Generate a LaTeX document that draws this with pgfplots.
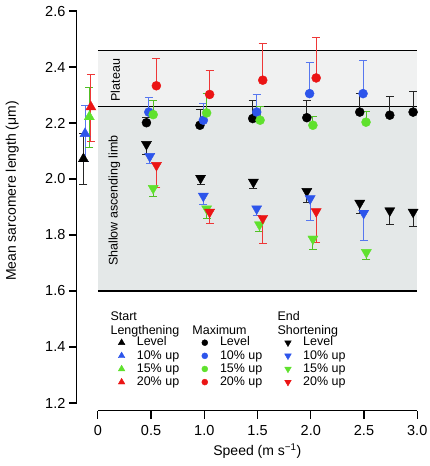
\documentclass[border=0pt]{standalone}
\usepackage{fontspec}
\setmainfont{Liberation Sans}
\usepackage{pgfplots}
\pgfplotsset{compat=1.18}
\definecolor{cblue}{RGB}{45,85,235}
\definecolor{cgreen}{RGB}{95,225,45}
\definecolor{cred}{RGB}{235,20,20}
\definecolor{plat}{RGB}{240,241,241}
\definecolor{limb}{RGB}{228,232,232}
\pgfplotsset{
  eb/.style n args={2}{error bars/.cd, y dir=#1, y explicit,
    error bar style={line width=0.8bp, color=#2},
    error mark options={rotate=90, mark size=4bp, line width=0.8bp, color=#2}},
  up/.style={only marks, mark=triangle*, mark size=5.8bp, forget plot},
  dn/.style={only marks, mark=triangle*, mark size=5.8bp, mark options={rotate=180}, forget plot},
  ci/.style={only marks, mark=*, mark size=4.5bp, forget plot},
}
\newcommand{\lf}{\fontsize{12.5}{14}\selectfont}
\begin{document}
\begin{tikzpicture}
\begin{axis}[
  scale only axis, width=339.3bp, height=398.7bp,
  xmin=-0.196, xmax=3.0, ymin=1.1715, ymax=2.6,
  clip=false,
  axis x line*=bottom, axis y line*=left,
  axis line style={draw=none},
  tick align=outside, major tick length=8bp,
  every tick/.style={black, line width=1.1bp},
  xtick={0,0.5,1,1.5,2,2.5,3},
  xticklabels={0,0.5,1.0,1.5,2.0,2.5,3.0},
  ytick={1.2,1.4,1.6,1.8,2.0,2.2,2.4,2.6},
  yticklabels={1.2,1.4,1.6,1.8,2.0,2.2,2.4,2.6},
  tick label style={font=\fontsize{14.5}{16}\selectfont},
  xticklabel style={yshift=-3bp},
  /pgf/number format/assume math mode=true,
  xlabel={Speed (m s\textsuperscript{−1})},
  ylabel={Mean sarcomere length (μm)},
  label style={font=\fontsize{14}{16}\selectfont},
  xlabel style={at={(axis description cs:0.53,-0.1)}, anchor=center},
  ylabel style={at={(axis description cs:-0.19,0.55)}, anchor=center},
  legend columns=3,
  legend cell align=left,
  legend style={at={(axis cs:0.184,1.438)}, anchor=north west, draw=none, fill=none,
    inner sep=0pt, outer sep=0pt, font=\lf,
    row sep=0.4bp, column sep=10bp,
    nodes={inner xsep=1bp, inner ysep=0.75bp, text height=8.8bp, text depth=2.4bp},
    /tikz/every even column/.append style={column sep=20.3bp}},
  legend image code/.code={\path (-4bp,0bp) (4bp,0bp); \draw[#1] plot coordinates {(0bp,0bp)};},
]
% background regions
\fill[plat] (axis cs:0,2.26) rectangle (axis cs:3,2.46);
\fill[limb] (axis cs:0,1.6) rectangle (axis cs:3,2.26);
\draw[line width=1.2bp] (axis cs:0,2.46) -- (axis cs:3,2.46);
\draw[line width=1.2bp] (axis cs:0,2.26) -- (axis cs:3,2.26);
\draw[line width=1.2bp] (axis cs:0,1.6) -- (axis cs:3,1.6);
\draw[line width=1.1bp] (axis cs:-0.196,1.2) -- (axis cs:-0.196,2.6);
\draw[line width=1.1bp] (axis cs:0,1.1715) -- (axis cs:3,1.1715);
\node[rotate=90, font=\lf] at (axis cs:0.165,2.353) {Plateau};
\node[rotate=90, font=\lf] at (axis cs:0.155,1.923) {Shallow ascending limb};
% legend headers
\node[anchor=base west, font=\lf, inner sep=0pt] at (axis cs:0.118,1.4929) {Start};
\node[anchor=base west, font=\lf, inner sep=0pt] at (axis cs:0.118,1.4463) {Lengthening};
\node[anchor=base west, font=\lf, inner sep=0pt] at (axis cs:0.887,1.4463) {Maximum};
\node[anchor=base west, font=\lf, inner sep=0pt] at (axis cs:1.687,1.4929) {End};
\node[anchor=base west, font=\lf, inner sep=0pt] at (axis cs:1.687,1.4463) {Shortening};

% Start lengthening (up triangles), both-sided errors
\addplot[up, black, eb={both}{black!85}] table[x=x, y=y, y error plus=ep, y error minus=em] {
x y ep em
-0.135 2.072 0.090 0.090
};
\addplot[up, cblue, eb={both}{cblue!80}] table[x=x, y=y, y error plus=ep, y error minus=em] {
x y ep em
-0.120 2.162 0.100 0.100
};
\addplot[up, cgreen, eb={both}{cgreen!85!black}] table[x=x, y=y, y error plus=ep, y error minus=em] {
x y ep em
-0.080 2.222 0.105 0.110
};
\addplot[up, cred, eb={both}{cred!85}] table[x=x, y=y, y error plus=ep, y error minus=em] {
x y ep em
-0.065 2.257 0.116 0.123
};

% Maximum (circles), upward errors
\addplot[ci, black, eb={plus}{black!85}] table[x=x, y=y, y error plus=e] {
x y e
0.457 2.201 0.020
0.959 2.192 0.056
1.455 2.216 0.063
1.963 2.219 0.062
2.460 2.239 0.068
2.742 2.228 0.068
2.961 2.239 0.074
};
\addplot[ci, cblue, eb={plus}{cblue!80}] table[x=x, y=y, y error plus=e] {
x y e
0.479 2.239 0.051
0.991 2.210 0.059
1.492 2.239 0.064
1.989 2.305 0.110
2.491 2.305 0.117
};
\addplot[ci, cgreen, eb={plus}{cgreen!85!black}] table[x=x, y=y, y error plus=e] {
x y e
0.520 2.230 0.049
1.022 2.236 0.069
1.524 2.210 0.050
2.020 2.192 0.032
2.519 2.203 0.040
};
\addplot[ci, cred, eb={plus}{cred!85}] table[x=x, y=y, y error plus=e] {
x y e
0.550 2.333 0.099
1.050 2.302 0.087
1.549 2.353 0.131
2.051 2.361 0.145
};

% End shortening (down triangles), downward errors
\addplot[dn, black, eb={minus}{black!85}] table[x=x, y=y, y error minus=e] {
x y e
0.457 2.124 0.036
0.965 2.003 0.021
1.461 1.989 0.023
1.963 1.956 0.039
2.460 1.914 0.038
2.742 1.887 0.050
2.961 1.882 0.052
};
\addplot[dn, cblue, eb={minus}{cblue!80}] table[x=x, y=y, y error minus=e] {
x y e
0.488 2.081 0.024
0.991 1.939 0.028
1.492 1.894 0.024
1.994 1.930 0.078
2.497 1.878 0.098
};
\addplot[dn, cgreen, eb={minus}{cgreen!85!black}] table[x=x, y=y, y error minus=e] {
x y e
0.520 1.967 0.029
1.022 1.894 0.036
1.518 1.837 0.024
2.020 1.786 0.036
2.522 1.738 0.024
};
\addplot[dn, cred, eb={minus}{cred!85}] table[x=x, y=y, y error minus=e] {
x y e
0.551 2.049 0.078
1.050 1.882 0.039
1.549 1.860 0.090
2.051 1.884 0.110
};

% legend images (row-wise)
\addlegendimage{only marks, mark=triangle*, mark size=3.8bp, black}
\addlegendimage{only marks, mark=*, mark size=3bp, black}
\addlegendimage{only marks, mark=triangle*, mark size=3.8bp, mark options={rotate=180}, black}
\addlegendimage{only marks, mark=triangle*, mark size=3.8bp, cblue}
\addlegendimage{only marks, mark=*, mark size=3bp, cblue}
\addlegendimage{only marks, mark=triangle*, mark size=3.8bp, mark options={rotate=180}, cblue}
\addlegendimage{only marks, mark=triangle*, mark size=3.8bp, cgreen}
\addlegendimage{only marks, mark=*, mark size=3bp, cgreen}
\addlegendimage{only marks, mark=triangle*, mark size=3.8bp, mark options={rotate=180}, cgreen}
\addlegendimage{only marks, mark=triangle*, mark size=3.8bp, cred}
\addlegendimage{only marks, mark=*, mark size=3bp, cred}
\addlegendimage{only marks, mark=triangle*, mark size=3.8bp, mark options={rotate=180}, cred}
\legend{Level, Level, Level, 10\% up, 10\% up, 10\% up, 15\% up, 15\% up, 15\% up, 20\% up, 20\% up, 20\% up}
\end{axis}
\pgfresetboundingbox
\path[use as bounding box] ([xshift=-76.7bp,yshift=-54.9bp]current axis.south west) rectangle ([xshift=12bp,yshift=11bp]current axis.north east);
\end{tikzpicture}
\end{document}
